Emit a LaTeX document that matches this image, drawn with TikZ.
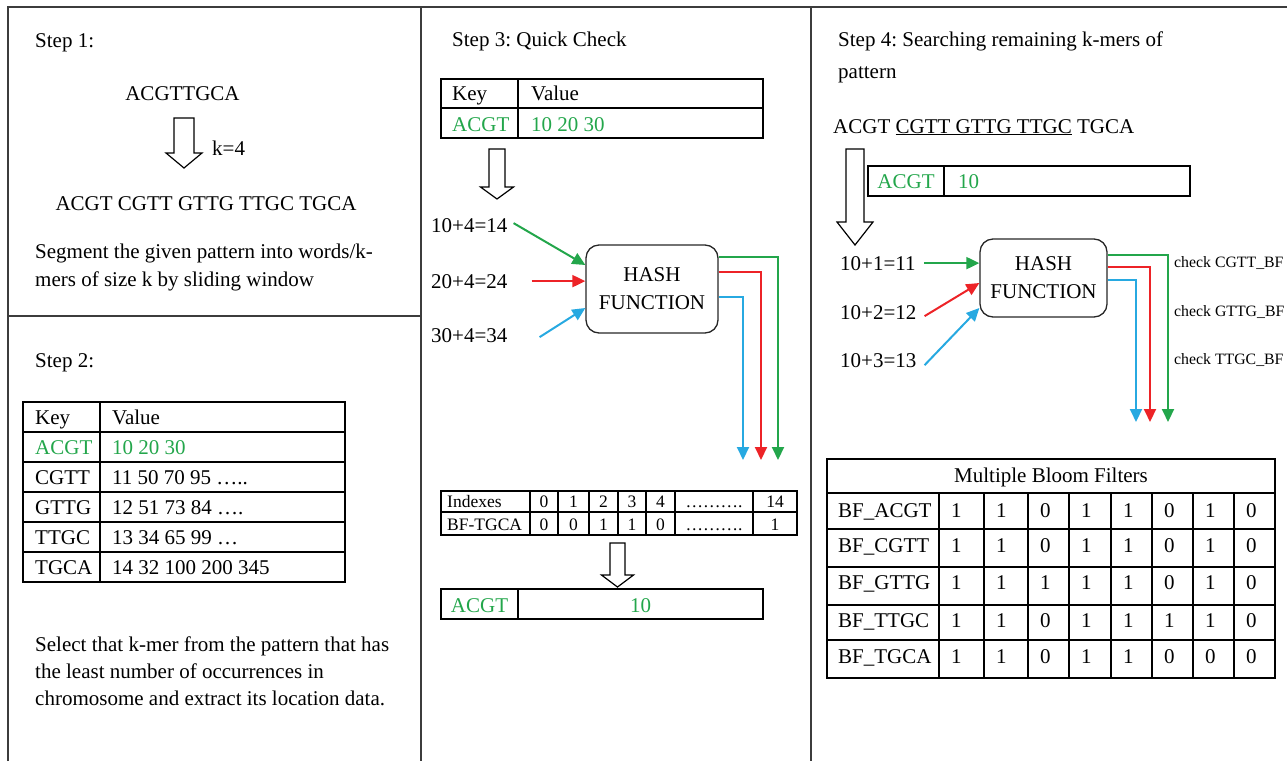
\documentclass[tikz,border=0pt]{standalone}
\usepackage{fontspec}
\setmainfont{Liberation Serif}
\usetikzlibrary{arrows.meta}
\frenchspacing

\definecolor{kgreen}{RGB}{35,166,75}
\definecolor{kred}{RGB}{237,35,39}
\definecolor{kblue}{RGB}{39,169,225}
\definecolor{framegray}{RGB}{60,60,60}

% hollow block arrow pointing down:
% #1 centre x, #2 top y, #3 y where the head starts, #4 tip y, #5 half shaft width, #6 half head width
\newcommand\hollowarrow[6]{%
  \draw[hollow] (#1-#5,#2) -- (#1+#5,#2) -- (#1+#5,#3) -- (#1+#6,#3) -- (#1,#4)
    -- (#1-#6,#3) -- (#1-#5,#3) -- cycle;}

% one row of the bloom-filter table: #1 node name, #2 label, #3 baseline, #4 bits
\newcommand\bfrow[4]{%
  \node[txt] (#1) at (838,#3) {#2};
  \foreach \b [count=\c] in {#4} {
    \pgfmathsetmacro\cx{{939,984,1028,1069,1111,1152,1193,1234}[\c-1]}
    \node[txt] (#1-\c) at (\cx+12,#3) {\b};
  }}

\begin{document}
\begin{tikzpicture}[x=1pt,y=-1pt,
  txt/.style={inner sep=0pt, anchor=base west, font=\fontsize{21}{27}\selectfont},
  ctxt/.style={txt, anchor=base},
  small/.style={font=\fontsize{17.5}{20}\selectfont},
  tiny/.style={font=\fontsize{15.8}{18}\selectfont},
  framel/.style={draw=framegray, line width=1.6pt},
  grid/.style={draw=black, line width=1.9pt},
  hollow/.style={draw=black, line width=1.2pt, fill=white, line join=miter},
  hashbox/.style={draw=black!85, line width=1.3pt, rounded corners=13pt, align=center,
    inner sep=0pt, font=\fontsize{21}{28}\selectfont},
  link/.style={line width=2pt, -{Triangle[length=13pt,width=12pt]}},
]
\useasboundingbox (0,0) rectangle (1287,761);

% panel frame
\draw[framel] (8,761) -- (8,7) -- (1287,7);
\draw[framel] (421,7) -- (421,761);
\draw[framel] (811,7) -- (811,761);
\draw[framel] (8,316) -- (421,316);

% ---------------- Step 1
\node[txt] (s1) at (35,47) {Step 1:};
\node[ctxt] (pat) at (182.5,100) {ACGTTGCA};
\hollowarrow{184}{118}{153}{168}{10}{18}
\node[txt] (kval) at (212,155) {k=4};
\node[ctxt] (kmers) at (206,210) {ACGT CGTT GTTG TTGC TGCA};
\node[txt, anchor=north west, align=left, font=\fontsize{21}{28}\selectfont] (seg) at (35,244)
  {Segment the given pattern into words/k-\\mers of size k by sliding window};

% ---------------- Step 2
\node[txt] (s2) at (35,367) {Step 2:};
\draw[grid] (23,402) rectangle (345,582);
\foreach \y in {432,462,492,522,552} \draw[grid] (23,\y) -- (345,\y);
\draw[grid] (100,402) -- (100,582);
\node[txt] (t2k0) at (35,424) {Key};
\node[txt] (t2v0) at (112,424) {Value};
\node[txt, text=kgreen] (t2k1) at (35,454) {ACGT};
\node[txt, text=kgreen] (t2v1) at (112,454) {10 20 30};
\node[txt] (t2k2) at (35,484) {CGTT};
\node[txt] (t2v2) at (112,484) {11 50 70 95 …..};
\node[txt] (t2k3) at (35,514) {GTTG};
\node[txt] (t2v3) at (112,514) {12 51 73 84 ….};
\node[txt] (t2k4) at (35,544) {TTGC};
\node[txt] (t2v4) at (112,544) {13 34 65 99 …};
\node[txt] (t2k5) at (35,574) {TGCA};
\node[txt] (t2v5) at (112,574) {14 32 100 200 345};
\node[txt, anchor=north west, align=left, font=\fontsize{21}{27}\selectfont] (sel) at (35,637)
  {Select that k-mer from the pattern that has\\the least number of occurrences in\\chromosome and extract its location data.};

% ---------------- Step 3
\node[txt] (s3) at (452,46) {Step 3: Quick Check};
\draw[grid] (441,79) rectangle (763,138);
\draw[grid] (441,108) -- (763,108);
\draw[grid] (518,79) -- (518,138);
\node[txt] (t3k0) at (452,100) {Key};
\node[txt] (t3v0) at (531,100) {Value};
\node[txt, text=kgreen] (t3k1) at (452,131) {ACGT};
\node[txt, text=kgreen] (t3v1) at (531,131) {10 20 30};
\hollowarrow{497}{149}{187}{199}{8}{16.5}

\node[txt] (l14) at (431,232) {10+4=14};
\node[txt] (l24) at (431,288) {20+4=24};
\node[txt] (l34) at (431,342) {30+4=34};
\node[hashbox, minimum width=132pt, minimum height=88pt] (hash3) at (652,289) {HASH\\FUNCTION};

\draw[link, kgreen] ([xshift=6pt,yshift=2pt]l14.east) -- ([yshift=24pt]hash3.west);
\draw[link, kred] ([xshift=24pt]l24.east) -- (hash3.west |- l24.east);
\draw[link, kblue] ([xshift=32pt,yshift=-2pt]l34.east) -- ([yshift=-19pt]hash3.west);

\coordinate (g3e) at (778,460);
\coordinate (r3e) at (761,460);
\coordinate (b3e) at (743,460);
\draw[link, kgreen] ([yshift=32pt]hash3.east) -| (g3e);
\draw[link, kred] ([yshift=17pt]hash3.east) -| (r3e);
\draw[link, kblue] ([yshift=-8pt]hash3.east) -| (b3e);

% bit table of the TGCA filter
\draw[grid] (441,491) rectangle (797,535);
\draw[grid] (441,512) -- (797,512);
\foreach \x in {530,558,589,618,646,675,753} \draw[grid] (\x,491) -- (\x,535);
\node[txt, small] (ix0) at (447,507) {Indexes};
\node[txt, small] (bf0) at (447,530) {BF-TGCA};
\foreach \cx/\i/\b [count=\c] in {544/0/0, 573.5/1/0, 603.5/2/1, 632/3/1, 660.5/4/0, 714/………./………., 775/14/1} {
  \node[ctxt, small] (ix\c) at (\cx,507) {\i};
  \node[ctxt, small] (bf\c) at (\cx,530) {\b};
}
\hollowarrow{617.5}{543}{575}{587}{7.5}{16}
\draw[grid] (441,589) rectangle (763,619);
\draw[grid] (518,589) -- (518,619);
\node[ctxt, text=kgreen] (r3k) at (479.5,612) {ACGT};
\node[ctxt, text=kgreen] (r3v) at (640.5,612) {10};

% ---------------- Step 4
\node[txt, anchor=north west, align=left, font=\fontsize{21}{32}\selectfont] (s4) at (838,32)
  {Step 4: Searching remaining k-mers of\\pattern};
\node[txt] (k4) at (833,133) {ACGT \underline{CGTT GTTG TTGC} TGCA};
\hollowarrow{855}{149}{222}{245}{9}{18}
\draw[grid] (868,166) rectangle (1190,196);
\draw[grid] (944,166) -- (944,196);
\node[ctxt, text=kgreen] (r4k) at (906,188) {ACGT};
\node[txt, text=kgreen] (r4v) at (958,188) {10};

\node[txt] (l11) at (840,270) {10+1=11};
\node[txt] (l12) at (840,319) {10+2=12};
\node[txt] (l13) at (840,367) {10+3=13};
\node[hashbox, minimum width=127pt, minimum height=78pt] (hash4) at (1043.5,278) {HASH\\FUNCTION};

\draw[link, kgreen] ([xshift=8pt]l11.east) -- (hash4.west |- l11.east);
\draw[link, kred] ([xshift=8pt,yshift=-4pt]l12.east) -- ([yshift=-5pt]hash4.west);
\draw[link, kblue] ([xshift=8pt,yshift=-5pt]l13.east) -- ([yshift=-30pt]hash4.west);

\coordinate (g4e) at (1168,422);
\coordinate (r4e) at (1150,422);
\coordinate (b4e) at (1136,422);
\draw[link, kgreen] ([yshift=23pt]hash4.east) -| (g4e);
\draw[link, kred] ([yshift=11pt]hash4.east) -| (r4e);
\draw[link, kblue] ([yshift=-2pt]hash4.east) -| (b4e);

\node[txt, tiny] (c1) at (1174,267) {check CGTT\_BF};
\node[txt, tiny] (c2) at (1174,316) {check GTTG\_BF};
\node[txt, tiny] (c3) at (1174,364) {check TTGC\_BF};

% multiple bloom filters
\draw[grid] (827,459) rectangle (1275,678);
\foreach \y in {493,529,567,605,640} \draw[grid] (827,\y) -- (1275,\y);
\foreach \x in {939,984,1028,1069,1111,1152,1193,1234} \draw[grid] (\x,493) -- (\x,678);
\node[ctxt] (mbf) at (1051,482) {Multiple Bloom Filters};
\bfrow{bfa}{BF\_ACGT}{517}{1,1,0,1,1,0,1,0}
\bfrow{bfc}{BF\_CGTT}{552}{1,1,0,1,1,0,1,0}
\bfrow{bfg}{BF\_GTTG}{589}{1,1,1,1,1,0,1,0}
\bfrow{bft}{BF\_TTGC}{627}{1,1,0,1,1,1,1,0}
\bfrow{bfx}{BF\_TGCA}{663}{1,1,0,1,1,0,0,0}
\end{tikzpicture}
\end{document}
